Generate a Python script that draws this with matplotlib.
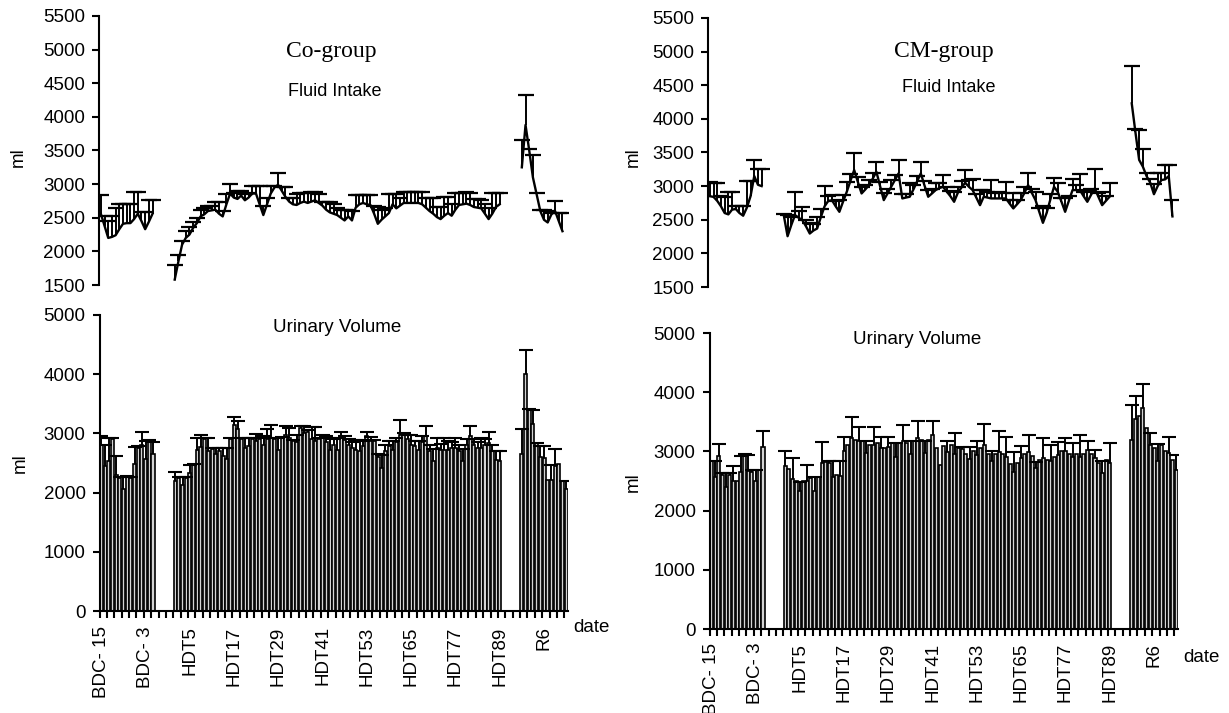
import numpy as np
import matplotlib
matplotlib.use("Agg")
import matplotlib.pyplot as plt

plt.rcParams['font.family'] = ['Liberation Sans', 'DejaVu Sans']

# ---------------- categories ----------------
bdc_days = [f"BDC- {d}" for d in range(15, 0, -1)]
hdt_days = [f"HDT{d}" for d in range(1, 90)]
r_days = [f"R{d}" for d in range(0, 13)]
gap = [""] * 5
categories = bdc_days + gap + hdt_days + gap + r_days
tick_labels = categories[::12]

# ---------------- Co-group fluid intake (mean, SD) ----------------
co_fi_bdc = [2560, 2380, 2200, 2215, 2240, 2330, 2410, 2420, 2420, 2480, 2560, 2450, 2330, 2440, 2560]
co_fi_bdc_sd = [280, 140, 250, 305, 400, 370, 290, 280, 280, 410, 330, 130, 250, 320, 200]
co_fi_hdt = [1580, 1850, 2100, 2200, 2250, 2350, 2420, 2520, 2550, 2600,
             2610, 2620, 2560, 2520, 2700, 2860, 2800, 2780, 2830, 2760,
             2800, 2860, 2860, 2700, 2540, 2700, 2860, 2950, 2990, 2900,
             2810, 2740, 2700, 2690, 2720, 2740, 2720, 2740, 2760, 2720,
             2680, 2620, 2580, 2560, 2540, 2500, 2460, 2520, 2460, 2650,
             2700, 2720, 2700, 2690, 2560, 2410, 2470, 2520, 2570, 2700,
             2640, 2680, 2720, 2720, 2720, 2720, 2720, 2700, 2650, 2600,
             2560, 2510, 2480, 2530, 2570, 2530, 2620, 2690, 2700, 2710,
             2690, 2660, 2650, 2640, 2560, 2480, 2560, 2660, 2700]
co_fi_hdt_sd = [210, 100, 60, 100, 110, 90, 80, 100, 90, 70,
                70, 110, 170, 80, 150, 140, 70, 120, 70, 90,
                70, 110, 110, 270, 140, 100, 110, 20, 180, 50,
                140, 60, 90, 160, 150, 130, 150, 150, 130, 130,
                60, 120, 160, 140, 110, 120, 160, 100, 140, 190,
                140, 120, 140, 150, 120, 250, 150, 120, 280, 150,
                210, 120, 160, 160, 160, 160, 160, 180, 150, 200,
                240, 150, 180, 280, 240, 170, 250, 180, 170, 180,
                180, 120, 130, 120, 140, 170, 310, 210, 170]
co_fi_r = [3250, 3880, 3500, 3100, 2850, 2600, 2470, 2430, 2550, 2600, 2450, 2300]
co_fi_r_sd = [400, 450, 20, 330, 20, 20, 150, 170, 20, 150, 120, 270]

# ---------------- CM-group fluid intake ----------------
cm_fi_bdc = [2850, 2840, 2780, 2700, 2600, 2580, 2650, 2660, 2600, 2560, 2680, 2850, 3150, 3020, 3000]
cm_fi_bdc_sd = [215, 210, 270, 150, 240, 340, 270, 40, 100, 140, 395, 225, 240, 240, 260]
cm_fi_hdt = [2560, 2255, 2420, 2570, 2530, 2494, 2400, 2295, 2340, 2370,
             2540, 2700, 2780, 2790, 2700, 2618, 2770, 2916, 3080, 3240,
             3060, 2891, 2950, 3016, 3110, 3214, 3000, 2792, 2890, 2991,
             3090, 3190, 2817, 2830, 2842, 2950, 3070, 3190, 3010, 2842,
             2890, 2941, 2970, 2991, 2920, 2850, 2767, 2900, 2980, 3050,
             2990, 2941, 2830, 2717, 2842, 2830, 2817, 2817, 2817, 2817,
             2817, 2740, 2668, 2730, 2792, 2900, 3016, 2900, 2792, 2620,
             2454, 2600, 2800, 2991, 2916, 2770, 2618, 2780, 2941, 2941,
             2941, 2850, 2767, 2870, 2966, 2840, 2717, 2780, 2842]
cm_fi_hdt_sd = [20, 313, 120, 346, 100, 189, 100, 150, 100, 173,
                120, 301, 80, 76, 80, 174, 100, 150, 100, 248,
                80, 100, 60, 74, 80, 149, 60, 99, 60, 100,
                80, 198, 60, 60, 198, 60, 80, 173, 60, 100,
                60, 100, 80, 174, 60, 80, 149, 80, 100, 189,
                100, 159, 60, 224, 100, 80, 273, 80, 100, 80,
                248, 60, 233, 60, 100, 80, 184, 60, 124, 60,
                248, 80, 80, 124, 124, 60, 199, 80, 159, 80,
                239, 60, 174, 80, 284, 60, 199, 80, 198]
cm_fi_r = [4230, 3800, 3390, 3290, 3150, 3050, 2880, 3000, 3090, 3100, 3150, 2550]
cm_fi_r_sd = [550, 50, 450, 260, 50, 50, 150, 200, 110, 210, 160, 240]

# ---------------- Co-group urinary volume ----------------
co_uv_bdc = [2800, 2450, 2540, 2900, 2300, 2250, 2060, 2260, 2250, 2480, 2760, 2800, 2560, 2870, 2650]
co_uv_bdc_sd = [160, 350, 380, 20, 320, 10, 200, 20, 20, 290, 20, 230, 310, 20, 210]
co_uv_hdt = [2200, 2250, 2130, 2250, 2330, 2470, 2720, 2770, 2900, 2700,
             2740, 2650, 2700, 2620, 2560, 2900, 3140, 3070, 2900, 2750,
             2780, 2900, 2870, 2900, 2800, 2900, 2920, 2900, 2720, 2920,
             2980, 2920, 2870, 2850, 3090, 3000, 3030, 2900, 2865, 2900,
             2950, 2850, 2725, 2800, 2725, 2950, 2890, 2800, 2750, 2720,
             2700, 2780, 2950, 2880, 2865, 2600, 2415, 2700, 2780, 2725,
             2850, 2980, 2980, 2900, 2810, 2780, 2725, 2850, 2950, 2700,
             2530, 2750, 2720, 2725, 2725, 2750, 2750, 2700, 2530, 2800,
             2950, 2810, 2750, 2750, 2800, 2840, 2700, 2550, 2530]
co_uv_hdt_sd = [150, 20, 140, 20, 140, 20, 200, 210, 20, 220,
                20, 110, 60, 140, 200, 20, 130, 140, 20, 170,
                140, 20, 120, 20, 150, 170, 230, 20, 200, 20,
                140, 170, 20, 130, 30, 120, 20, 200, 235, 20,
                20, 100, 200, 100, 200, 80, 60, 100, 100, 170,
                190, 100, 80, 60, 30, 50, 225, 100, 85, 140,
                80, 240, 20, 80, 170, 100, 150, 100, 170, 100,
                200, 170, 100, 190, 150, 100, 170, 100, 200, 100,
                170, 100, 100, 170, 100, 190, 100, 160, 180]
co_uv_r = [2650, 4000, 3400, 3160, 2830, 2600, 2580, 2220, 2220, 2450, 2480, 2200, 2060]
co_uv_r_sd = [420, 410, 10, 240, 10, 180, 200, 0, 250, 280, 0, 0, 140]

# ---------------- CM-group urinary volume ----------------
cm_uv_bdc = [2830, 2560, 2920, 2600, 2400, 2600, 2500, 2500, 2650, 2930, 2670, 2650, 2500, 2680, 3070]
cm_uv_bdc_sd = [0, 270, 210, 30, 230, 30, 250, 0, 280, 20, 270, 30, 180, 0, 270]
cm_uv_hdt = [2750, 2700, 2530, 2500, 2330, 2500, 2500, 2550, 2330, 2560,
             2800, 2820, 2800, 2560, 2600, 2580, 3000, 3100, 3220, 3200,
             3180, 3180, 2980, 3100, 3110, 3150, 3050, 3060, 3080, 3150,
             2900, 3150, 3170, 3150, 2950, 3180, 3220, 3200, 2980, 3200,
             3280, 3060, 2776, 3086, 2984, 3100, 2962, 3050, 3041, 2950,
             2872, 3000, 2934, 3050, 3108, 2950, 2832, 2950, 2990, 2950,
             2900, 2780, 2652, 2800, 2889, 2950, 2990, 2917, 2720, 2850,
             2889, 2850, 2832, 2900, 2934, 3000, 3001, 2950, 2900, 2950,
             2900, 2950, 3018, 2950, 2889, 2800, 2635, 2850, 2804]
cm_uv_hdt_sd = [260, 0, 360, 0, 160, 0, 270, 0, 230, 0,
                360, 0, 30, 270, 0, 250, 250, 0, 360, 0,
                240, 0, 200, 0, 310, 0, 200, 0, 170, 0,
                250, 0, 280, 0, 220, 0, 290, 0, 200, 0,
                230, 0, 0, 0, 200, 0, 350, 0, 30, 0,
                200, 0, 240, 0, 360, 0, 170, 0, 350, 0,
                350, 0, 330, 0, 200, 0, 290, 0, 100, 0,
                340, 0, 280, 0, 220, 0, 230, 0, 240, 0,
                380, 0, 150, 0, 130, 0, 200, 0, 330]
cm_uv_r = [3190, 3550, 3600, 3730, 3400, 3110, 3050, 2830, 3100, 3000, 2980, 2850, 2690]
cm_uv_r_sd = [600, 390, 0, 410, 0, 200, 0, 300, 0, 0, 270, 0, 250]

# ---------------- positions ----------------
idx = {c: i for i, c in enumerate(categories) if c}
x_bdc = np.array([idx[c] for c in bdc_days])
x_hdt = np.array([idx[c] for c in hdt_days])
x_r = np.array([idx[c] for c in r_days])
n_cat = len(categories)

W, H = 1229, 713
fig = plt.figure(figsize=(W / 100, H / 100), dpi=100)


def frac(x0, y0, x1, y1):
    return [x0 / W, 1 - y1 / H, (x1 - x0) / W, (y1 - y0) / H]


def line_panel(ax, segs):
    for x, m, e in segs:
        m = np.asarray(m, float)
        e = np.asarray(e, float)
        x = x[:len(m)]
        ax.plot(x, m, color='black', lw=1.7, zorder=3)
        ax.vlines(x, m, m + e, color='black', lw=1.4, zorder=3)
        ax.plot(x, m + e, ls='none', marker='_', ms=11, mew=1.6, color='black', zorder=3)
    ax.set_xlim(-0.5, n_cat - 0.5)
    ax.set_ylim(1500, 5500)
    ax.set_yticks(np.arange(1500, 5501, 500))
    ax.set_xticks([])
    for s in ['top', 'right', 'bottom']:
        ax.spines[s].set_visible(False)
    ax.spines['left'].set_linewidth(1.5)
    ax.tick_params(axis='y', length=5, width=1.5, labelsize=13.5, pad=5)


def bar_panel(ax, segs, pad):
    for x, m, e in segs:
        m = np.asarray(m, float)
        e = np.asarray(e, float)
        ax.bar(x, m, width=0.82, color='#d4d4d4', edgecolor='black', lw=1.2, zorder=2)
        k = e > 0
        ax.vlines(x[k], m[k], (m + e)[k], color='black', lw=1.4, zorder=3)
        ax.plot(x[k], (m + e)[k], ls='none', marker='_', ms=10, mew=1.5, color='black', zorder=3)
    ax.set_xlim(-0.5, n_cat - 0.5)
    ax.set_ylim(0, 5000)
    ax.set_yticks(np.arange(0, 5001, 1000))
    ax.set_xticks(np.arange(0, n_cat, 12))
    ax.set_xticklabels(tick_labels, rotation=90)
    ax.set_xticks(np.arange(-0.5, n_cat, 2), minor=True)
    for s in ['top', 'right']:
        ax.spines[s].set_visible(False)
    ax.spines['left'].set_linewidth(1.5)
    ax.spines['bottom'].set_linewidth(1.5)
    ax.tick_params(axis='y', length=5, width=1.5, labelsize=13.5, pad=5)
    ax.tick_params(axis='x', which='major', length=0, labelsize=13.5, pad=pad)
    ax.tick_params(axis='x', which='minor', length=5, width=1.5)


ax1 = fig.add_axes(frac(99, 16, 568, 285))
line_panel(ax1, [(x_bdc, co_fi_bdc, co_fi_bdc_sd), (x_hdt, co_fi_hdt, co_fi_hdt_sd),
                 (x_r, co_fi_r, co_fi_r_sd)])
ax2 = fig.add_axes(frac(99.5, 315, 568, 611))
bar_panel(ax2, [(x_bdc, co_uv_bdc, co_uv_bdc_sd), (x_hdt, co_uv_hdt, co_uv_hdt_sd),
                (x_r, co_uv_r, co_uv_r_sd)], pad=11)
ax3 = fig.add_axes(frac(708, 18, 1178, 287))
line_panel(ax3, [(x_bdc, cm_fi_bdc, cm_fi_bdc_sd), (x_hdt, cm_fi_hdt, cm_fi_hdt_sd),
                 (x_r, cm_fi_r, cm_fi_r_sd)])
ax4 = fig.add_axes(frac(709.5, 333, 1178, 629))
bar_panel(ax4, [(x_bdc, cm_uv_bdc, cm_uv_bdc_sd), (x_hdt, cm_uv_hdt, cm_uv_hdt_sd),
                (x_r, cm_uv_r, cm_uv_r_sd)], pad=10)


def t(x, y, s, **kw):
    fig.text(x / W, 1 - y / H, s, ha='center', va='center', **kw)


serif = ['Liberation Serif', 'DejaVu Serif']
t(331, 52, "Co-group", fontsize=17, family=serif)
t(335, 92, "Fluid Intake", fontsize=13)
t(944, 52, "CM-group", fontsize=17, family=serif)
t(949, 88, "Fluid Intake", fontsize=13)
t(337, 328, "Urinary Volume", fontsize=13.5)
t(917, 339, "Urinary Volume", fontsize=13.5)
t(591, 627, "date", fontsize=13.5)
t(1201, 657, "date", fontsize=13.5)
for (xx, yy) in [(18, 157), (20, 463), (633, 157), (633, 482)]:
    t(xx, yy, "ml", fontsize=13.5, rotation=90)

fig.savefig("out.png", dpi=100)
